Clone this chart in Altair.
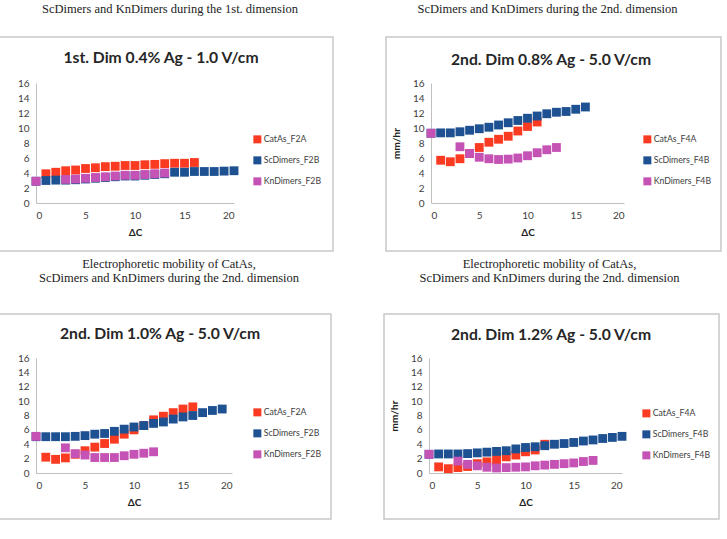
import altair as alt
import pandas as pd

# ---- ΔC positions and mobilities (mm/hr) ----
# 1st. Dim 0.4% Ag - 1.0 V/cm
p1_cat_x = list(range(1, 17))
p1_cat_y = [3.9, 4.1, 4.3, 4.4, 4.6, 4.7, 4.85, 4.9, 5.0, 5.0, 5.1, 5.15, 5.25, 5.3, 5.3, 5.4]
p1_sc_x = list(range(0, 21))
p1_sc_y = [2.9, 3.0, 3.05, 3.05, 3.1, 3.2, 3.3, 3.4, 3.5, 3.6, 3.6, 3.7, 3.8, 3.9,
           4.1, 4.1, 4.2, 4.2, 4.2, 4.25, 4.3]
p1_kn_x = [0] + list(range(3, 14))
p1_kn_y = [2.9, 3.15, 3.2, 3.3, 3.4, 3.5, 3.6, 3.7, 3.7, 3.8, 3.9, 4.0]

# 2nd. Dim 0.8% Ag - 5.0 V/cm
p2_cat_x = list(range(1, 12))
p2_cat_y = [5.7, 5.5, 5.9, 6.6, 7.4, 8.1, 8.5, 8.9, 9.6, 10.2, 10.8]
p2_sc_x = list(range(0, 17))
p2_sc_y = [9.3, 9.35, 9.35, 9.5, 9.7, 9.9, 10.1, 10.4, 10.7, 11.0, 11.3, 11.6,
           11.9, 12.1, 12.2, 12.5, 12.8]
p2_kn_x = [0] + list(range(3, 14))
p2_kn_y = [9.3, 7.5, 6.6, 6.1, 5.9, 5.8, 5.85, 6.0, 6.3, 6.7, 7.1, 7.4]

# 2nd. Dim 1.0% Ag - 5.0 V/cm
p3_cat_x = list(range(1, 17))
p3_cat_y = [2.2, 1.9, 2.1, 2.6, 3.1, 3.6, 4.1, 4.7, 5.4, 6.0, 6.6, 7.4, 7.9, 8.4, 8.9, 9.2]
p3_sc_x = list(range(0, 20))
p3_sc_y = [5.05, 5.05, 5.05, 5.05, 5.1, 5.2, 5.4, 5.5, 5.8, 6.1, 6.4, 6.6, 6.9,
           7.1, 7.5, 7.8, 8.0, 8.4, 8.7, 8.9]
p3_kn_x = [0] + list(range(3, 13))
p3_kn_y = [5.1, 3.5, 2.7, 2.5, 2.15, 2.15, 2.15, 2.4, 2.6, 2.75, 2.95]

# 2nd. Dim 1.2% Ag - 5.0 V/cm
p4_cat_x = list(range(1, 13))
p4_cat_y = [0.85, 0.6, 0.75, 0.9, 1.3, 1.55, 1.85, 2.25, 2.5, 2.95, 3.2, 4.0]
p4_sc_x = list(range(0, 21))
p4_sc_y = [2.6, 2.65, 2.65, 2.65, 2.7, 2.8, 2.9, 3.0, 3.1, 3.35, 3.55, 3.65, 3.8,
           4.0, 4.1, 4.25, 4.45, 4.6, 4.8, 4.95, 5.1]
p4_kn_x = [0] + list(range(3, 18))
p4_kn_y = [2.6, 1.65, 1.2, 1.0, 0.8, 0.7, 0.75, 0.8, 0.85, 1.0, 1.1, 1.2, 1.3, 1.4, 1.6, 1.75]

Y_TICKS = [0, 2, 4, 6, 8, 10, 12, 14, 16]
X_TICKS = [0, 5, 10, 15, 20]
COLORS = ["#fa3b22", "#1e5192", "#c553b6"]

SANS = "Lato"
SERIF = "Liberation Serif"
GREY = "#404040"


def panel(heading, caption, names, series, w, h, box, head_xy, legend_xy,
          caption_offset, caption_dx, show_ytitle):
    rows = []
    for k, (name, (xs, ys)) in enumerate(zip(names, series)):
        for x, y in zip(xs, ys):
            rows.append({"dc": x, "mob": y, "series": name, "k": k})
    df = pd.DataFrame(rows)

    y_axis = dict(values=Y_TICKS, grid=False, ticks=False, domainColor="#c0c0c0",
                  labelFont=SANS, labelFontSize=10, labelColor=GREY, labelPadding=7)
    if show_ytitle:
        y_axis.update(title="mm/hr", titleFont=SANS, titleFontSize=10,
                      titleFontWeight="bold", titleColor="#222222",
                      titleX=-35, titleY=h / 2, titleAngle=270,
                      titleBaseline="middle", titleAlign="center")
    else:
        y_axis.update(title=None)

    points = alt.Chart(df).mark_square(size=78, opacity=1).encode(
        x=alt.X("dc:Q", scale=alt.Scale(domain=[0, 20], nice=False),
                axis=alt.Axis(values=X_TICKS, grid=False, ticks=False,
                              domainColor="#c0c0c0", labelFont=SANS,
                              labelFontSize=10, labelColor=GREY, labelPadding=7,
                              title="ΔC", titleFont=SANS, titleFontSize=10,
                              titleFontWeight="bold", titleColor="#222222",
                              titleY=29, titleBaseline="middle")),
        y=alt.Y("mob:Q", scale=alt.Scale(domain=[0, 16], nice=False),
                axis=alt.Axis(**y_axis)),
        color=alt.Color("series:N",
                        scale=alt.Scale(domain=names, range=COLORS),
                        legend=alt.Legend(title=None, orient="none",
                                          legendX=legend_xy[0], legendY=legend_xy[1],
                                          symbolType="square", symbolSize=64,
                                          symbolStrokeWidth=0, labelFont=SANS,
                                          labelFontSize=8.7, labelColor=GREY,
                                          labelOffset=2, rowPadding=11,
                                          padding=0)),
        order=alt.Order("k:Q"),
    )

    one = alt.Data(values=[{"a": 1}])
    frame = alt.Chart(one).mark_rect(fill="#ffffff", fillOpacity=0,
                                     stroke="#c8c8c8", strokeWidth=1.5).encode(
        x=alt.value(box[0]), x2=alt.value(box[1]),
        y=alt.value(box[2]), y2=alt.value(box[3]),
    )
    head = alt.Chart(one).mark_text(font=SANS, fontSize=15.7, fontWeight="bold",
                                    color="#262626", align="center",
                                    baseline="middle", text=heading).encode(
        x=alt.value(head_xy[0]), y=alt.value(head_xy[1]),
    )

    return alt.layer(frame, points, head).properties(
        width=w, height=h,
        title=alt.TitleParams(caption, font=SERIF, fontSize=12.5, fontWeight="normal",
                              color="#222222", anchor="middle", offset=caption_offset,
                              dx=caption_dx, lineHeight=14),
    )


names_a = ["CatAs_F2A", "ScDimers_F2B", "KnDimers_F2B"]
names_b = ["CatAs_F4A", "ScDimers_F4B", "KnDimers_F4B"]
cap2 = ["Electrophoretic mobility of CatAs,",
        "ScDimers and KnDimers during the 2nd. dimension"]

tl = panel("1st. Dim 0.4% Ag - 1.0 V/cm",
           "ScDimers and KnDimers during the 1st. dimension",
           names_a, [(p1_cat_x, p1_cat_y), (p1_sc_x, p1_sc_y), (p1_kn_x, p1_kn_y)],
           198, 120, (-45, 297, -46, 168), (125, -25), (217, 52), 21, 35, False)
tr = panel("2nd. Dim 0.8% Ag - 5.0 V/cm",
           "ScDimers and KnDimers during the 2nd. dimension",
           names_b, [(p2_cat_x, p2_cat_y), (p2_sc_x, p2_sc_y), (p2_kn_x, p2_kn_y)],
           193, 120, (-45, 290, -46, 168), (120, -23), (212, 52), 21, 20, True)
bl = panel("2nd. Dim 1.0% Ag - 5.0 V/cm", cap2,
           names_a, [(p3_cat_x, p3_cat_y), (p3_sc_x, p3_sc_y), (p3_kn_x, p3_kn_y)],
           196, 115, (-47, 295, -44, 161), (124, -24), (217, 50), 29, 35, False)
br = panel("2nd. Dim 1.2% Ag - 5.0 V/cm", cap2,
           names_b, [(p4_cat_x, p4_cat_y), (p4_sc_x, p4_sc_y), (p4_kn_x, p4_kn_y)],
           193, 115, (-45, 290, -44, 161), (122, -23), (213, 51), 29, 24, True)

top = alt.hconcat(tl, tr, spacing=51).resolve_scale(color="independent")
bottom = alt.hconcat(bl, br, spacing=51).resolve_scale(color="independent")

chart = alt.vconcat(top, bottom, spacing=5).resolve_scale(
    color="independent"
).properties(
    padding={"left": -12, "top": 2, "right": 5, "bottom": 5},
    background="#ffffff",
).configure_view(stroke=None)

chart.save("out.html", embed_options={"renderer": "svg", "actions": False})
